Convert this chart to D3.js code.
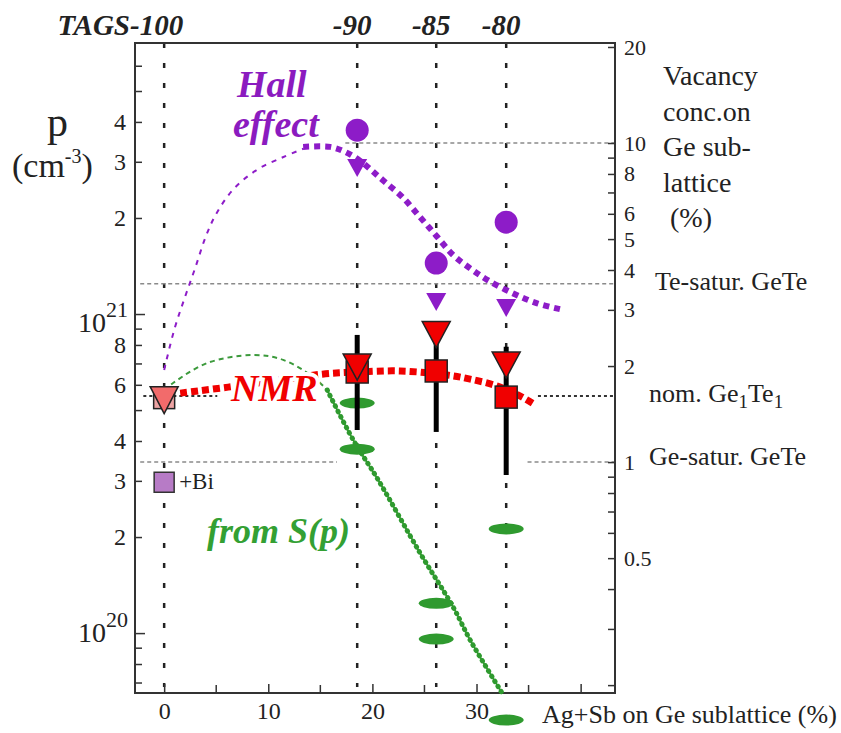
<!DOCTYPE html>
<html>
<head>
<meta charset="utf-8">
<script src="https://cdn.jsdelivr.net/npm/d3@7"></script>
<style>
body { margin: 0; background: #fff; }
svg text { font-family: "Liberation Serif", "Times New Roman", serif; fill: #222; }
.bi { font-weight: bold; font-style: italic; }
</style>
</head>
<body>
<svg id="chart" width="841" height="733"></svg>
<script>

// compositions, Ag+Sb on Ge sublattice (%)
var tagsX = [0, 18.54, 26.13, 32.85];
var tagsLabels = ["TAGS-100", "-90", "-85", "-80"];

// Hall effect (circles) and its lower marks (triangles)
var hallX = [18.54, 26.13, 32.85];
var hallP = [3.77e21, 1.445e21, 1.94e21];
var hallTriP = [2.87e21, 1.09e21, 1.044e21];

// NMR: squares, triangles, error bars
var nmrX = [0, 18.54, 26.13, 32.85];
var nmrSquareP = [5.45e20, 6.58e20, 6.63e20, 5.49e20];
var nmrTriP = [5.37e20, 6.82e20, 8.62e20, 6.92e20];
var nmrErrX = [18.54, 26.13, 32.85];
var nmrErrLo = [4.33e20, 4.27e20, 3.13e20];
var nmrErrHi = [8.6e20, 9.4e20, 7.9e20];

// GeTe + Bi
var biX = [0];
var biP = [2.97e20];

// from S(p)
var seebeckX = [18.54, 18.54, 26.13, 26.13, 32.85, 32.85];
var seebeckP = [5.26e20, 3.77e20, 1.24e20, 9.58e19, 2.12e20, 5.34e19];

// guide curves
var hallFitX = [13.35, 15.95, 17.39, 18.83, 20.08, 21.23, 22.86, 24.59, 26.13, 27.76, 29.39, 31.03, 33.53, 35.83, 38.33];
var hallFitP = [3.34e21, 3.34e21, 3.22e21, 3.02e21, 2.79e21, 2.59e21, 2.33e21, 2.01e21, 1.76e21, 1.53e21, 1.39e21, 1.28e21, 1.16e21, 1.08e21, 1.03e21];
var hallExtX = [0, 1, 2, 3, 4, 5, 6.6, 8.9, 11.4, 13.4];
var hallExtP = [6.68e20, 9.0e20, 1.13e21, 1.40e21, 1.75e21, 2.06e21, 2.45e21, 2.83e21, 3.1e21, 3.3e21];
var nmrFitX = [1.54, 6.15, 11.14, 15.18, 18.54, 22.67, 27.19, 29.39, 31.99, 34.2, 35.64];
var nmrFitP = [5.65e20, 5.90e20, 6.21e20, 6.48e20, 6.58e20, 6.63e20, 6.44e20, 6.25e20, 5.95e20, 5.53e20, 5.19e20];
var spArcX = [0, 0.86, 4.13, 8.55, 11.43, 14.31, 15.66];
var spArcP = [5.78e20, 6.08e20, 7.02e20, 7.44e20, 7.18e20, 6.35e20, 5.78e20];
var spFitX = [15.66, 18.16, 20.56, 24.59, 27.76, 29.39, 32.47];
var spFitP = [5.78e20, 4.03e20, 3.02e20, 1.78e20, 1.206e20, 9.51e19, 6.48e19];

// reference levels on vacancy scale (%), with x extent
var grayLevelPct = [10, 3.62, 1.0, 1.0];
var grayLevelX0 = [17.4, -2.3, -2.3, 34.9];
var grayLevelX1 = [43.3, 43.3, 16.6, 43.3];
var nomLevelPct = [1.61, 1.61];
var nomLevelX0 = [-2.0, 35.9];
var nomLevelX1 = [5.1, 43.3];

// ticks
var xMajorTicks = [0, 10, 20, 30, 40];
var xLabelTicks = [0, 10, 20, 30];
var xMinorTicks = [5, 15, 25, 35];
var pTicks = [7e19, 8e19, 9e19, 1e20, 2e20, 3e20, 4e20, 5e20, 6e20, 7e20, 8e20, 9e20, 1e21, 2e21, 3e21, 4e21, 5e21, 6e21];
var pLabelTicks = [2e20, 3e20, 4e20, 6e20, 8e20, 2e21, 3e21, 4e21];
var vacTicks = [0.2, 0.3, 0.4, 0.5, 0.6, 0.7, 0.8, 0.9, 1, 2, 3, 4, 5, 6, 7, 8, 9, 10, 20];
var vacLabelTicks = [0.5, 1, 2, 3, 4, 5, 6, 8, 10, 20];

var frame = {left: 135, right: 615, top: 43, bottom: 693};
var pPerPct = 3.435e20;   // holes per 1% vacancies

var purple = "#8d1cc8", red = "#f00000", green = "#2f9a2f";

var svg = d3.select("#chart");

var x = d3.scaleLinear().domain([-2.8, 43.3]).range([frame.left, frame.right]);
var y = d3.scaleLog().domain([6.49e19, 7.07e21]).range([frame.bottom, frame.top]);
var yv = d3.scaleLog().domain([6.49e19 / pPerPct, 7.07e21 / pPerPct]).range([frame.bottom, frame.top]);

function zip(xs, ys) { return xs.map(function(d, i) { return [d, ys[i]]; }); }

// vertical dotted lines at the compositions
svg.selectAll(".vline").data(tagsX).enter().append("line")
	.attr("x1", function(d) { return x(d); }).attr("x2", function(d) { return x(d); })
	.attr("y1", frame.top).attr("y2", frame.bottom - 6)
	.attr("stroke", "#222").attr("stroke-width", 2.5).attr("stroke-dasharray", "5,15");

// reference levels
grayLevelPct.forEach(function(v, i) {
	svg.append("line")
		.attr("x1", x(grayLevelX0[i])).attr("x2", x(grayLevelX1[i]))
		.attr("y1", yv(v)).attr("y2", yv(v))
		.attr("stroke", "#8a8a8a").attr("stroke-width", 1.5).attr("stroke-dasharray", "4,3");
});
nomLevelPct.forEach(function(v, i) {
	svg.append("line")
		.attr("x1", x(nomLevelX0[i])).attr("x2", x(nomLevelX1[i]))
		.attr("y1", yv(v)).attr("y2", yv(v))
		.attr("stroke", "#333").attr("stroke-width", 2).attr("stroke-dasharray", "3,3");
});

// frame
svg.append("rect")
	.attr("x", frame.left).attr("y", frame.top)
	.attr("width", frame.right - frame.left).attr("height", frame.bottom - frame.top)
	.attr("fill", "none").attr("stroke", "#333").attr("stroke-width", 2);

// left axis (p)
var yAxis = svg.append("g").attr("transform", "translate(" + frame.left + ",0)")
	.call(d3.axisLeft(y).tickValues(pTicks).tickSize(-7).tickPadding(9)
		.tickFormat(function(d) { return pLabelTicks.indexOf(d) >= 0 ? String(Math.round(d / Math.pow(10, Math.floor(Math.log10(d) + 1e-9)))) : ""; }));
yAxis.select(".domain").remove();
yAxis.selectAll("line").attr("stroke", "#333").attr("stroke-width", 1.5)
	.attr("x2", function(d) { return (d === 1e20 || d === 1e21) ? 10 : 7; });
yAxis.selectAll("text").style("font-size", "24px").style("font-family", "Liberation Serif, serif").attr("fill", "#222");

// decade labels
[[1e21, 18], [1e20, 9]].forEach(function(d) {
	var t = svg.append("text").attr("x", 128).attr("y", y(d[0]) + d[1])
		.attr("text-anchor", "end").style("font-size", "28px");
	t.append("tspan").text("10");
	t.append("tspan").attr("dy", -15).style("font-size", "22px").text(String(Math.round(Math.log10(d[0]))));
});

// right axis (vacancy %)
var vAxis = svg.append("g").attr("transform", "translate(" + frame.right + ",0)")
	.call(d3.axisRight(yv).tickValues(vacTicks).tickSize(-7).tickPadding(9)
		.tickFormat(function(d) { return vacLabelTicks.indexOf(d) >= 0 ? String(d) : ""; }));
vAxis.select(".domain").remove();
vAxis.selectAll("line").attr("stroke", "#333").attr("stroke-width", 1.5);
vAxis.selectAll("text").style("font-size", "22px").style("font-family", "Liberation Serif, serif").attr("fill", "#222");

// bottom axis
var xAxis = svg.append("g").attr("transform", "translate(0," + frame.bottom + ")")
	.call(d3.axisBottom(x).tickValues(xMajorTicks).tickSize(-9).tickPadding(9)
		.tickFormat(function(d) { return xLabelTicks.indexOf(d) >= 0 ? String(d) : ""; }));
xAxis.select(".domain").remove();
xAxis.selectAll("line").attr("stroke", "#333").attr("stroke-width", 1.5);
xAxis.selectAll("text").style("font-size", "24px").style("font-family", "Liberation Serif, serif").attr("fill", "#222");
svg.selectAll(".minorx").data(xMinorTicks).enter().append("line")
	.attr("x1", function(d) { return x(d); }).attr("x2", function(d) { return x(d); })
	.attr("y1", frame.bottom).attr("y2", frame.bottom - 8)
	.attr("stroke", "#333").attr("stroke-width", 1.5);

// top labels
svg.selectAll(".tags").data(tagsX).enter().append("text")
	.attr("class", "bi")
	.attr("x", function(d, i) { return i === 0 ? x(d) + 19 : x(d) - 5; })
	.attr("y", 35)
	.attr("text-anchor", function(d, i) { return i === 0 ? "end" : "middle"; })
	.style("font-size", "29px")
	.text(function(d, i) { return tagsLabels[i]; });

// curves
var line = d3.line().x(function(d) { return x(d[0]); }).y(function(d) { return y(d[1]); }).curve(d3.curveCatmullRom);

svg.append("path").attr("d", line(zip(hallExtX, hallExtP)))
	.attr("fill", "none").attr("stroke", purple).attr("stroke-width", 2).attr("stroke-dasharray", "5,6");
svg.append("path").attr("d", line(zip(spArcX, spArcP)))
	.attr("fill", "none").attr("stroke", "#3c9a3c").attr("stroke-width", 2).attr("stroke-dasharray", "5,4");
svg.append("path").attr("d", line(zip(spFitX, spFitP)))
	.attr("fill", "none").attr("stroke", green).attr("stroke-width", 1.8);
svg.append("path").attr("d", line(zip(spFitX, spFitP)))
	.attr("fill", "none").attr("stroke", green).attr("stroke-width", 5)
	.attr("stroke-linecap", "round").attr("stroke-dasharray", "0.5,5.5");
svg.append("path").attr("d", line(zip(hallFitX, hallFitP)))
	.attr("fill", "none").attr("stroke", purple).attr("stroke-width", 6).attr("stroke-dasharray", "6,5");
svg.append("path").attr("d", line(zip(nmrFitX, nmrFitP)))
	.attr("fill", "none").attr("stroke", red).attr("stroke-width", 7).attr("stroke-dasharray", "7,4");

// S(p) ellipses
svg.selectAll(".sp").data(seebeckX).enter().append("ellipse")
	.attr("cx", function(d) { return x(d); })
	.attr("cy", function(d, i) { return y(seebeckP[i]); })
	.attr("rx", 17.5).attr("ry", 5.5)
	.attr("fill", green);

// NMR error bars
svg.selectAll(".err").data(nmrErrX).enter().append("line")
	.attr("x1", function(d) { return x(d); }).attr("x2", function(d) { return x(d); })
	.attr("y1", function(d, i) { return y(nmrErrHi[i]); })
	.attr("y2", function(d, i) { return y(nmrErrLo[i]); })
	.attr("stroke", "#000").attr("stroke-width", 5);

// squares
svg.selectAll(".sq").data(nmrX).enter().append("rect")
	.attr("x", function(d, i) { return x(d) - (i === 0 ? 10.5 : 11); })
	.attr("y", function(d, i) { return y(nmrSquareP[i]) - (i === 0 ? 10.5 : 11); })
	.attr("width", function(d, i) { return i === 0 ? 21 : 22; })
	.attr("height", function(d, i) { return i === 0 ? 21 : 22; })
	.attr("fill", function(d, i) { return i === 0 ? "#eda3a3" : red; })
	.attr("stroke", "#222").attr("stroke-width", 1.5);

svg.selectAll(".bi-sq").data(biX).enter().append("rect")
	.attr("x", function(d) { return x(d) - 10; })
	.attr("y", function(d, i) { return y(biP[i]) - 10; })
	.attr("width", 20).attr("height", 20)
	.attr("fill", "#b77bc6").attr("stroke", "#333").attr("stroke-width", 1.5);
svg.append("text").attr("x", x(biX[0]) + 15).attr("y", y(biP[0]) + 7)
	.style("font-size", "23px").text("+Bi");

function tri(w, h) { return "M" + (-w / 2) + "," + (-h / 2) + "L" + (w / 2) + "," + (-h / 2) + "L0," + (h / 2) + "Z"; }

// NMR triangles
svg.selectAll(".ntri").data(nmrX).enter().append("path")
	.attr("d", function(d, i) { return i === 0 ? tri(28, 27) : tri(28, 26); })
	.attr("transform", function(d, i) { return "translate(" + x(d) + "," + y(nmrTriP[i]) + ")"; })
	.attr("fill", function(d, i) { return i === 0 ? "#f26b6b" : red; })
	.attr("stroke", "#222").attr("stroke-width", 1.5);

// Hall triangles and circles
svg.selectAll(".htri").data(hallX).enter().append("path")
	.attr("d", tri(20, 18))
	.attr("transform", function(d, i) { return "translate(" + x(d) + "," + y(hallTriP[i]) + ")"; })
	.attr("fill", purple);
svg.selectAll(".hc").data(hallX).enter().append("circle")
	.attr("cx", function(d) { return x(d); })
	.attr("cy", function(d, i) { return y(hallP[i]); })
	.attr("r", 11.5)
	.attr("fill", purple);

// annotations
function halo(sel) { return sel.attr("stroke", "#fff").attr("stroke-width", 8).attr("stroke-linejoin", "round").style("paint-order", "stroke"); }

halo(svg.append("text").attr("class", "bi").attr("x", 237).attr("y", 97)
	.style("font-size", "38px").style("fill", "#8b1bbf").text("Hall"));
halo(svg.append("text").attr("class", "bi").attr("x", 233).attr("y", 137)
	.style("font-size", "38px").style("fill", "#8b1bbf").text("effect"));
halo(svg.append("text").attr("class", "bi").attr("x", 231).attr("y", 401)
	.style("font-size", "38px").style("fill", red).text("NMR"));
halo(svg.append("text").attr("class", "bi").attr("x", 207).attr("y", 543)
	.style("font-size", "36px").style("fill", "#33a033").text("from S(p)"));

// left axis title
svg.append("text").attr("x", 47).attr("y", 136).style("font-size", "42px").text("p");
var unit = svg.append("text").attr("x", 12).attr("y", 177).style("font-size", "34px");
unit.append("tspan").text("(cm");
unit.append("tspan").attr("dy", -14).style("font-size", "20px").text("-3");
unit.append("tspan").attr("dy", 14).text(")");

// right axis title
["Vacancy", "conc.on", "Ge sub-", "lattice", " (%)"].forEach(function(s, i) {
	svg.append("text").attr("x", 663).attr("y", 85 + i * 35.5)
		.style("font-size", "28px").style("white-space", "pre").text(s);
});

svg.append("text").attr("x", 655).attr("y", 290).style("font-size", "26px").text("Te-satur. GeTe");
var nom = svg.append("text").attr("x", 649).attr("y", 402).style("font-size", "26px");
nom.append("tspan").text("nom. Ge");
nom.append("tspan").attr("dy", 6).style("font-size", "19px").text("1");
nom.append("tspan").attr("dy", -6).text("Te");
nom.append("tspan").attr("dy", 6).style("font-size", "19px").text("1");
svg.append("text").attr("x", 649).attr("y", 465).style("font-size", "26px").text("Ge-satur. GeTe");

// x axis title
svg.append("text").attr("x", 542).attr("y", 723).style("font-size", "26px").text("Ag+Sb on Ge sublattice (%)");

</script>
</body>
</html>
